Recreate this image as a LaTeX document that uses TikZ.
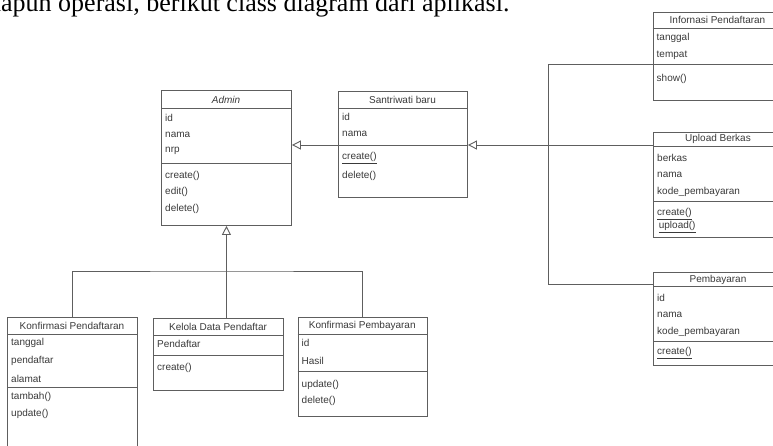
\documentclass[tikz,border=0pt]{standalone}
\usepackage{fontspec}
\setmainfont{Liberation Serif}
\setsansfont{Liberation Sans}
\usetikzlibrary{arrows.meta}
\definecolor{garis}{HTML}{5E5E5E}
\definecolor{teks}{HTML}{3A3A3A}
\tikzset{
  kelas/.style={draw=garis, line width=0.9pt, fill=white, anchor=north west, inner sep=0pt, minimum width=130},
  judul/.style={font=\sffamily\fontsize{10}{12}\selectfont, text=teks, inner sep=0pt},
  anggota/.style={font=\sffamily\fontsize{10}{12}\selectfont, text=teks, anchor=west, inner sep=0pt},
  hubung/.style={draw=garis, line width=0.9pt},
  warisan/.style={hubung, -{Triangle[open, length=9pt, width=9pt]}}
}
\begin{document}
\begin{tikzpicture}[x=1pt, y=-1pt]
    \useasboundingbox (0,0) rectangle (773,445);

    % Kalimat di atas
    \node[anchor=base west, inner sep=0pt, font=\fontsize{26}{30}\selectfont] (kalimat) at (-12,11) {dapun operasi, berikut class diagram dari aplikasi.};

    % Admin
    \node[kelas, minimum height=135] (admin) at (161,90) {};
    \draw[hubung] (161,108) -- (291,108);
    \draw[hubung] (161,163) -- (291,163);
    \node[judul] (admin-t) at (226,99.5) {\textit{Admin}};
    \foreach \t [count=\i] in {id,nama,nrp}
        \node[anggota] (admin-a\i) at (165,101+16.7*\i) {\t};
    \foreach \t [count=\i] in {create(),edit(),delete()}
        \node[anggota] (admin-m\i) at (165,159+16.5*\i) {\t};

    % Santriwati baru
    \node[kelas, minimum width=129, minimum height=106] (santri) at (338,91) {};
    \draw[hubung] (338,108) -- (467,108);
    \draw[hubung] (338,145.5) -- (467,145.5);
    \node[judul] (santri-t) at (402.5,100) {Santriwati baru};
    \foreach \t [count=\i] in {id,nama}
        \node[anggota] (santri-a\i) at (342,99+17.5*\i) {\t};
    \foreach \t [count=\i] in {\underline{create()},delete()}
        \node[anggota] (santri-m\i) at (342,140.5+17.5*\i) {\t};

    % Infornasi Pendaftaran
    \node[kelas, minimum height=88] (info) at (652.5,12) {};
    \draw[hubung] (652.5,28) -- (782.5,28);
    \draw[hubung] (652.5,64) -- (782.5,64);
    \node[judul] (info-t) at (717.5,20) {Infornasi Pendaftaran};
    \foreach \t [count=\i] in {tanggal,tempat}
        \node[anggota] (info-a\i) at (656.5,19.5+18*\i) {\t};
    \node[anggota] (info-m1) at (656.5,79) {show()};

    % Upload Berkas
    \node[kelas, minimum height=105] (upload) at (653,131.7) {};
    \draw[hubung] (653,146.7) -- (783,146.7);
    \draw[hubung] (653,201.7) -- (783,201.7);
    \node[judul] (upload-t) at (718,139) {Upload Berkas};
    \foreach \t [count=\i] in {berkas,nama,kode\_pembayaran}
        \node[anggota] (upload-a\i) at (657,140.5+17*\i) {\t};
    \foreach \t [count=\i] in {\underline{create()},\,\underline{upload()}}
        \node[anggota] (upload-m\i) at (657,201+13.2*\i) {\t};

    % Pembayaran
    \node[kelas, minimum height=93] (bayar) at (653,271.7) {};
    \draw[hubung] (653,286.7) -- (783,286.7);
    \draw[hubung] (653,341.7) -- (783,341.7);
    \node[judul] (bayar-t) at (718,279.5) {Pembayaran};
    \foreach \t [count=\i] in {id,nama,kode\_pembayaran}
        \node[anggota] (bayar-a\i) at (657,281+16.9*\i) {\t};
    \node[anggota] (bayar-m1) at (657,353.3) {\underline{create()}};

    % Konfirmasi Pendaftaran
    \node[kelas, minimum height=140] (kpend) at (7,317) {};
    \draw[hubung] (7,334) -- (137,334);
    \draw[hubung] (7,387) -- (137,387);
    \node[judul] (kpend-t) at (72,325.5) {Konfirmasi Pendaftaran};
    \foreach \t [count=\i] in {tanggal,pendaftar,alamat}
        \node[anggota] (kpend-a\i) at (11,325+18*\i) {\t};
    \foreach \t [count=\i] in {tambah(),update()}
        \node[anggota] (kpend-m\i) at (11,379.5+17.3*\i) {\t};

    % Kelola Data Pendaftar
    \node[kelas, minimum height=72] (kelola) at (153,318) {};
    \draw[hubung] (153,335) -- (283,335);
    \draw[hubung] (153,355) -- (283,355);
    \node[judul] (kelola-t) at (218,326.5) {Kelola Data Pendaftar};
    \node[anggota] (kelola-a1) at (157,344) {Pendaftar};
    \node[anggota] (kelola-m1) at (157,368) {create()};

    % Konfirmasi Pembayaran
    \node[kelas, minimum width=129.5, minimum height=98.7] (kbayar) at (297.5,317.3) {};
    \draw[hubung] (297.5,334.3) -- (427,334.3);
    \draw[hubung] (297.5,371) -- (427,371);
    \node[judul] (kbayar-t) at (362.25,326) {Konfirmasi Pembayaran};
    \foreach \t [count=\i] in {id,Hasil}
        \node[anggota] (kbayar-a\i) at (301.5,325+18*\i) {\t};
    \foreach \t [count=\i] in {update(),delete()}
        \node[anggota] (kbayar-m\i) at (301.5,369+16*\i) {\t};

    % Pewarisan ke Admin
    \coordinate (cabang) at (226,271);
    \draw[hubung] (kpend.north) |- (cabang) -| (kbayar.north);
    \draw[warisan] (admin.south |- kelola.north) -- (admin.south);
    \draw[warisan] (santri.west |- 0,145) -- (admin.east |- 0,145);

    % Pewarisan ke Santriwati baru
    \coordinate (jatas) at (548,64);
    \coordinate (jtengah) at (548,145);
    \coordinate (jbawah) at (548,284);
    \draw[hubung] (jatas -| info.west) -- (jatas) -- (jbawah) -- (jbawah -| bayar.west);
    \draw[hubung] (jtengah -| upload.west) -- (jtengah);
    \draw[warisan] (jtengah) -- (jtengah -| santri.east);
\end{tikzpicture}
\end{document}
